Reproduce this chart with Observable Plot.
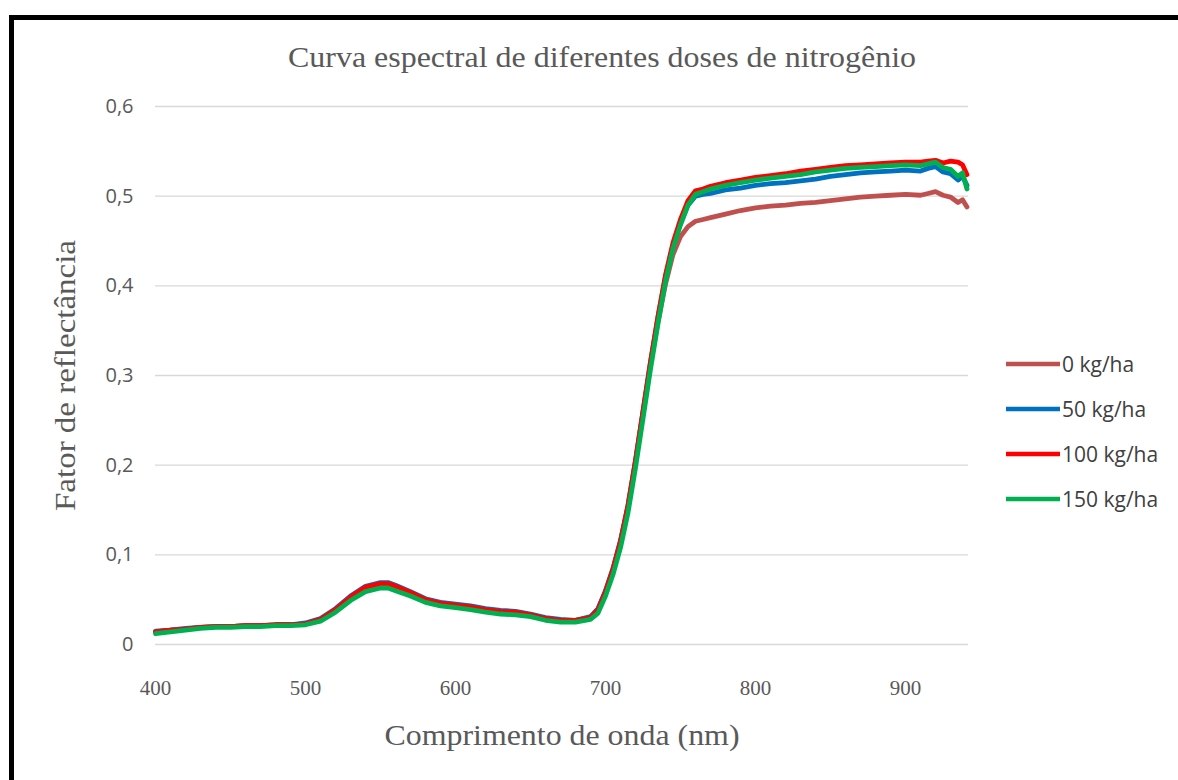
<!DOCTYPE html>
<html><head><meta charset="utf-8">
<script src="https://cdn.jsdelivr.net/npm/d3@7"></script>
<script src="https://cdn.jsdelivr.net/npm/@observablehq/plot@0.6"></script>
<style>
html,body{margin:0;padding:0;background:#fff;overflow:hidden;}
#wrap{position:relative;width:1178px;height:780px;overflow:hidden;background:#fff;}
#frame{position:absolute;left:9px;top:15px;width:1300px;height:900px;border:5px solid #000;box-sizing:border-box;pointer-events:none;}
#chart{position:absolute;left:0;top:0;}
#legend{position:absolute;left:1005px;top:341px;font-family:"Open Sans",sans-serif;font-size:21px;color:#404040;}
#legend .row{display:flex;align-items:center;height:45px;}
#legend svg{margin-right:1px;}
</style>
</head><body>
<div id="wrap"><div id="chart"></div><div id="legend"></div><div id="frame"></div></div>
<script>
const seriesNames = ["0 kg/ha", "50 kg/ha", "100 kg/ha", "150 kg/ha"];
const seriesColors = ["#C0504D", "#0070C0", "#FF0000", "#00B050"];
const xTicks = [400, 500, 600, 700, 800, 900];
const yTicks = [0, 0.1, 0.2, 0.3, 0.4, 0.5, 0.6];
const titleText = "Curva espectral de diferentes doses de nitrogênio";
const xTitle = "Comprimento de onda (nm)";
const yTitle = "Fator de reflectância";

const wavelengths = [
400,410,420,430,440,450,460,470,480,490,
500,510,520,530,540,550,555,560,570,580,
590,600,610,620,630,640,650,660,670,680,
690,695,700,705,710,715,720,725,730,735,
740,745,750,755,760,765,770,780,790,800,
810,820,830,840,850,860,870,880,890,900,
910,915,920,925,930,935,938,941];

const dose0 = [
.014,.016,.017,.019,.020,.020,.021,.021,.022,.022,
.023,.028,.039,.052,.063,.067,.067,.064,.057,.049,
.046,.044,.042,.039,.037,.036,.033,.029,.027,.027,
.030,.039,.058,.083,.114,.153,.203,.258,.312,.360,
.402,.435,.455,.466,.472,.474,.476,.480,.484,.487,
.489,.490,.492,.493,.495,.497,.499,.500,.501,.502,
.501,.503,.505,.501,.499,.493,.496,.488];

const dose50 = [
.015,.016,.018,.019,.020,.020,.021,.021,.022,.022,
.024,.029,.040,.054,.065,.069,.069,.066,.059,.051,
.047,.045,.043,.040,.038,.037,.034,.030,.028,.027,
.031,.040,.060,.085,.116,.155,.205,.260,.315,.365,
.410,.445,.470,.490,.500,.502,.503,.507,.509,.512,
.514,.515,.517,.519,.522,.524,.526,.527,.528,.529,
.528,.531,.533,.527,.525,.518,.522,.512];

const dose100 = [
.014,.016,.017,.019,.020,.020,.021,.021,.022,.022,
.023,.028,.039,.053,.064,.068,.068,.065,.058,.050,
.046,.044,.042,.039,.037,.036,.033,.029,.027,.027,
.030,.039,.059,.084,.115,.155,.205,.260,.315,.366,
.412,.448,.474,.495,.506,.508,.511,.515,.518,.521,
.523,.525,.528,.530,.532,.534,.535,.536,.537,.538,
.538,.539,.540,.537,.539,.538,.535,.524];

const dose150 = [
.012,.014,.016,.018,.019,.019,.020,.020,.021,.021,
.022,.026,.036,.049,.059,.063,.063,.060,.054,.047,
.043,.041,.039,.036,.034,.033,.031,.027,.025,.025,
.028,.035,.054,.078,.108,.147,.197,.252,.307,.358,
.405,.442,.468,.490,.502,.505,.508,.512,.515,.518,
.520,.522,.524,.527,.529,.531,.532,.533,.534,.535,
.534,.536,.538,.532,.530,.522,.526,.508];

const seriesValues = [dose0, dose50, dose100, dose150];
const rows = [];
seriesNames.forEach((name, s) => wavelengths.forEach((w, i) => rows.push({serie: name, w, r: seriesValues[s][i]})));

const serif = "'Liberation Serif','DejaVu Serif',serif";
const sans = "'Open Sans','Liberation Sans',sans-serif";

const chart = Plot.plot({
  width: 1178, height: 780,
  marginLeft: 155, marginRight: 210, marginTop: 106, marginBottom: 136,
  style: {background: "transparent", overflow: "visible"},
  x: {domain: [400, 942]},
  y: {domain: [0, 0.6]},
  color: {domain: seriesNames, range: seriesColors},
  marks: [
    Plot.gridY(yTicks, {stroke: "#d9d9d9", strokeOpacity: 1, strokeWidth: 1.3}),
    Plot.axisY(yTicks, {tickSize: 0, tickPadding: 22, label: null, fontSize: 20, fontFamily: sans, fill: "#595959",
      tickFormat: d => d === 0 ? "0" : d.toFixed(1).replace(".", ",")}),
    Plot.axisX(xTicks, {tickSize: 0, tickPadding: 36, label: null, fontSize: 21, fontFamily: serif, fill: "#595959"}),
    Plot.line(rows, {x: "w", y: "r", z: "serie", stroke: "serie", strokeWidth: 4.8, strokeLinejoin: "round"}),
    Plot.text([titleText], {frameAnchor: "top", dx: 40, dy: -60, fontSize: 29, fontFamily: serif, fill: "#595959"}),
    Plot.text([xTitle], {frameAnchor: "bottom", dy: 100, fontSize: 29, fontFamily: serif, fill: "#595959"}),
    Plot.text([yTitle], {frameAnchor: "left", textAnchor: "middle", dx: -90, rotate: -90, fontSize: 29, fontFamily: serif, fill: "#595959"})
  ]
});
// stretch the serif titles horizontally, as in the reference
const stretch = {[titleText]: 628, [xTitle]: 355, [yTitle]: 271};
chart.querySelectorAll("text").forEach(t => {
  const w = stretch[t.textContent];
  if (w) { t.setAttribute("textLength", w); t.setAttribute("lengthAdjust", "spacingAndGlyphs"); }
});
document.getElementById("chart").appendChild(chart);

const legend = document.getElementById("legend");
seriesNames.forEach((name, i) => {
  const row = document.createElement("div");
  row.className = "row";
  row.innerHTML = `<svg width="56" height="6"><line x1="1" y1="3" x2="55" y2="3" stroke="${seriesColors[i]}" stroke-width="4.5"/></svg><span>${name}</span>`;
  legend.appendChild(row);
});
</script>
</body></html>
